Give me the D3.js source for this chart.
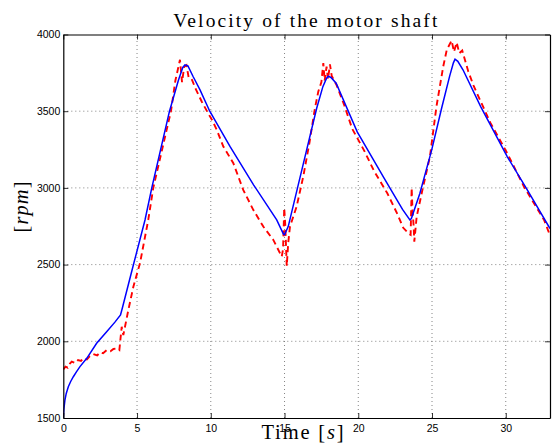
<!DOCTYPE html>
<html>
<head>
<meta charset="utf-8">
<title>Velocity of the motor shaft</title>
<style>
    body { margin: 0; background: #fff; }
    .tick text { font-family: "Liberation Sans", Arial, sans-serif; font-size: 10.5px; fill: #000; }
    .grid line { stroke: #666; stroke-width: 0.8; stroke-dasharray: 1,3; }
    .label { font-family: "Liberation Serif", "DejaVu Serif", serif; fill: #000; }
</style>
</head>
<body>
<svg width="554" height="448"></svg>
<script src="https://cdnjs.cloudflare.com/ajax/libs/d3/7.8.5/d3.min.js"></script>
<script>
// simulated velocity (blue, solid)
const modelTime = [0, 0.04, 0.11, 0.2, 0.34, 0.5, 0.68, 0.9, 1.13, 1.59, 2.26, 2.94, 3.5, 3.88, 4.0, 4.75, 5.54, 6.0, 7.2, 7.8, 8.1, 8.25, 8.45, 8.8, 9.27, 9.93, 11.3, 12.9, 14.47, 14.92, 15.0, 15.25, 16.5, 17.18, 17.6, 17.85, 17.97, 18.15, 18.5, 19.93, 21.74, 23.0, 23.5, 23.6, 24.18, 24.98, 25.65, 26.2, 26.45, 26.56, 26.75, 27.1, 28.3, 30.1, 31.5, 33];
const modelRpm = [1500, 1560, 1617, 1660, 1704, 1738, 1769, 1802, 1835, 1889, 1987, 2063, 2125, 2172, 2215, 2497, 2791, 3000, 3500, 3700, 3785, 3802, 3795, 3726, 3639, 3500, 3270, 3020, 2791, 2700, 2695, 2748, 3248, 3519, 3660, 3715, 3728, 3720, 3683, 3365, 3065, 2860, 2791, 2800, 2965, 3248, 3519, 3730, 3815, 3839, 3825, 3770, 3530, 3204, 2980, 2735];

// measured velocity (red, dashed)
const measTime = [0, 0.15, 0.3, 0.45, 0.57, 0.8, 1.0, 1.2, 1.36, 1.6, 1.8, 2.03, 2.3, 2.5, 2.7, 2.94, 3.2, 3.4, 3.62, 3.8, 3.96, 4.07, 4.41, 4.75, 5.2, 5.76, 6.1, 6.7, 7.3, 7.6, 7.91, 8.05, 8.2, 8.35, 8.5, 8.7, 9.0, 9.4, 9.8, 10.1, 10.4, 10.85, 11.53, 12.2, 12.88, 13.56, 14.24, 14.81, 14.9, 14.98, 15.05, 15.15, 15.25, 15.37, 15.82, 16.27, 16.7, 17.06, 17.29, 17.5, 17.63, 17.72, 17.85, 17.95, 18.08, 18.2, 18.53, 19.03, 19.59, 20.39, 21.07, 21.97, 22.65, 23.05, 23.45, 23.55, 23.62, 23.68, 23.75, 23.8, 23.96, 24.4, 24.86, 25.3, 25.76, 26.0, 26.33, 26.49, 26.67, 26.85, 27.05, 27.23, 27.46, 27.84, 28.97, 30.1, 31.23, 32.6, 33];
const measRpm = [1817, 1835, 1828, 1855, 1867, 1858, 1878, 1872, 1889, 1882, 1903, 1917, 1908, 1928, 1922, 1943, 1935, 1950, 1954, 1943, 2095, 2041, 2204, 2356, 2509, 2791, 3000, 3250, 3500, 3700, 3835, 3690, 3790, 3800, 3720, 3710, 3640, 3560, 3490, 3440, 3380, 3270, 3161, 2987, 2857, 2748, 2661, 2552, 2600, 2868, 2760, 2491, 2640, 2748, 2878, 3074, 3300, 3519, 3628, 3690, 3813, 3700, 3790, 3710, 3805, 3730, 3670, 3545, 3385, 3245, 3110, 2965, 2830, 2740, 2700, 2694, 3000, 2850, 2760, 2650, 2813, 3009, 3204, 3530, 3791, 3900, 3961, 3887, 3948, 3878, 3896, 3835, 3759, 3661, 3422, 3226, 3009, 2791, 2690];

const xTicks = [0, 5, 10, 15, 20, 25, 30];
const yTicks = [1500, 2000, 2500, 3000, 3500, 4000];

const svg = d3.select('svg');
const margin = { top: 34.5, right: 4, bottom: 30, left: 63.3 };
const width = +svg.attr('width'), height = +svg.attr('height');

const x = d3.scaleLinear().domain([0, 33]).range([margin.left, width - margin.right]);
const y = d3.scaleLinear().domain([1500, 4000]).range([height - margin.bottom, margin.top]);

// grid
const grid = svg.append('g').attr('class', 'grid');
grid.selectAll('.gx').data(xTicks.slice(1)).enter().append('line')
    .attr('x1', d => x(d)).attr('x2', d => x(d))
    .attr('y1', y.range()[0]).attr('y2', y.range()[1]);
grid.selectAll('.gy').data(yTicks.slice(1, -1)).enter().append('line')
    .attr('x1', x.range()[0]).attr('x2', x.range()[1])
    .attr('y1', d => y(d)).attr('y2', d => y(d));

// curves
svg.append('clipPath').attr('id', 'plot').append('rect')
    .attr('x', x.range()[0]).attr('y', y.range()[1])
    .attr('width', x.range()[1] - x.range()[0]).attr('height', y.range()[0] - y.range()[1]);

const line = d3.line().x(d => x(d[0])).y(d => y(d[1]));

svg.append('path')
    .datum(measTime.map((t, i) => [t, measRpm[i]]))
    .attr('clip-path', 'url(#plot)')
    .attr('d', line)
    .attr('fill', 'none').attr('stroke', '#ff0000')
    .attr('stroke-width', 1.9).attr('stroke-dasharray', '6,4');

svg.append('path')
    .datum(modelTime.map((t, i) => [t, modelRpm[i]]))
    .attr('clip-path', 'url(#plot)')
    .attr('d', line)
    .attr('fill', 'none').attr('stroke', '#0000ff')
    .attr('stroke-width', 1.5);

// axes, ticks pointing inward on all four sides
const axisStyle = g => {
    g.selectAll('.domain').attr('stroke', '#000').attr('stroke-width', 1.2);
    g.selectAll('.tick line').attr('stroke', '#000').attr('stroke-width', 0.8);
};
svg.append('g').attr('transform', 'translate(0,' + y.range()[0] + ')')
    .call(d3.axisBottom(x).tickValues(xTicks).tickSizeInner(-5).tickSizeOuter(0).tickPadding(7))
    .call(axisStyle);
svg.append('g').attr('transform', 'translate(0,' + y.range()[1] + ')')
    .call(d3.axisTop(x).tickValues(xTicks).tickSizeInner(-5).tickSizeOuter(0).tickFormat(''))
    .call(axisStyle);
svg.append('g').attr('transform', 'translate(' + x.range()[0] + ',0)')
    .call(d3.axisLeft(y).tickValues(yTicks).tickSizeInner(-5).tickSizeOuter(0).tickPadding(3).tickFormat(d3.format('d')))
    .call(axisStyle);
svg.append('g').attr('transform', 'translate(' + x.range()[1] + ',0)')
    .call(d3.axisRight(y).tickValues(yTicks).tickSizeInner(-5).tickSizeOuter(0).tickFormat(''))
    .call(axisStyle);
svg.selectAll('.tick text').attr('font-family', null).attr('font-size', null);

// labels
svg.append('text').attr('class', 'label')
    .attr('x', 305.3).attr('y', 27)
    .attr('text-anchor', 'middle').attr('font-size', 19.5)
    .attr('textLength', 264).attr('lengthAdjust', 'spacing')
    .text('Velocity of the motor shaft');

// x label sits low, as in the original, just touching the "15" tick label
const xl = svg.append('text').attr('class', 'label')
    .attr('x', 302.5).attr('y', 439)
    .attr('text-anchor', 'middle').attr('font-size', 20.5)
    .attr('textLength', 82).attr('lengthAdjust', 'spacing');
xl.append('tspan').text('Time [');
xl.append('tspan').attr('font-style', 'italic').text('s');
xl.append('tspan').text(']');

const yl = svg.append('text').attr('class', 'label')
    .attr('transform', 'translate(28,207) rotate(-90)')
    .attr('text-anchor', 'middle').attr('font-size', 20.5)
    .attr('textLength', 51).attr('lengthAdjust', 'spacing');
yl.append('tspan').text('[');
yl.append('tspan').attr('font-style', 'italic').text('rpm');
yl.append('tspan').text(']');
</script>
</body>
</html>
